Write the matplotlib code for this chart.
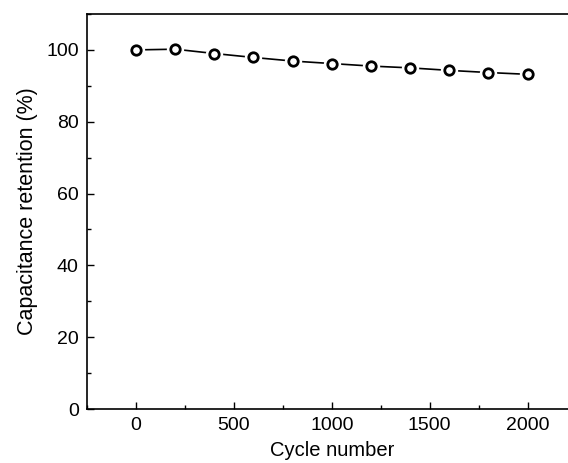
import matplotlib
matplotlib.use("Agg")
import matplotlib.pyplot as plt
from matplotlib.ticker import MultipleLocator

cycles = [0, 200, 400, 600, 800, 1000, 1200, 1400, 1600, 1800, 2000]
retention = [100.0, 100.2, 99.0, 97.9, 96.9, 96.2, 95.5, 95.0, 94.3, 93.7, 93.2]

plt.rcParams['font.family'] = ['Liberation Sans', 'DejaVu Sans']

fig = plt.figure(figsize=(5.68, 4.63), dpi=100)
ax = fig.add_axes([87/568, 54/463, 489.5/568, 395/463])

ax.plot(cycles, retention, color='black', lw=1.2, zorder=2)
ax.plot(cycles, retention, ls='none', marker='o', ms=12.5, mfc='white', mec='white', mew=0, zorder=3)
ax.plot(cycles, retention, ls='none', marker='o', ms=6.8, mfc='white', mec='black', mew=2.0, zorder=4)

ax.set_xlim(-250, 2250)
ax.set_ylim(0, 110)
ax.xaxis.set_major_locator(MultipleLocator(500))
ax.xaxis.set_minor_locator(MultipleLocator(250))
ax.yaxis.set_major_locator(MultipleLocator(20))
ax.yaxis.set_minor_locator(MultipleLocator(10))

ax.tick_params(which='both', direction='in', width=1.0, labelsize=14, pad=6)
ax.tick_params(which='major', length=5)
ax.tick_params(which='minor', length=3)
for s in ax.spines.values():
    s.set_linewidth(1.2)

ax.set_xlabel('Cycle number', fontsize=14.5, labelpad=5)
ax.set_ylabel('Capacitance retention (%)', fontsize=15.5, labelpad=6)

fig.savefig('out.png', dpi=100)
